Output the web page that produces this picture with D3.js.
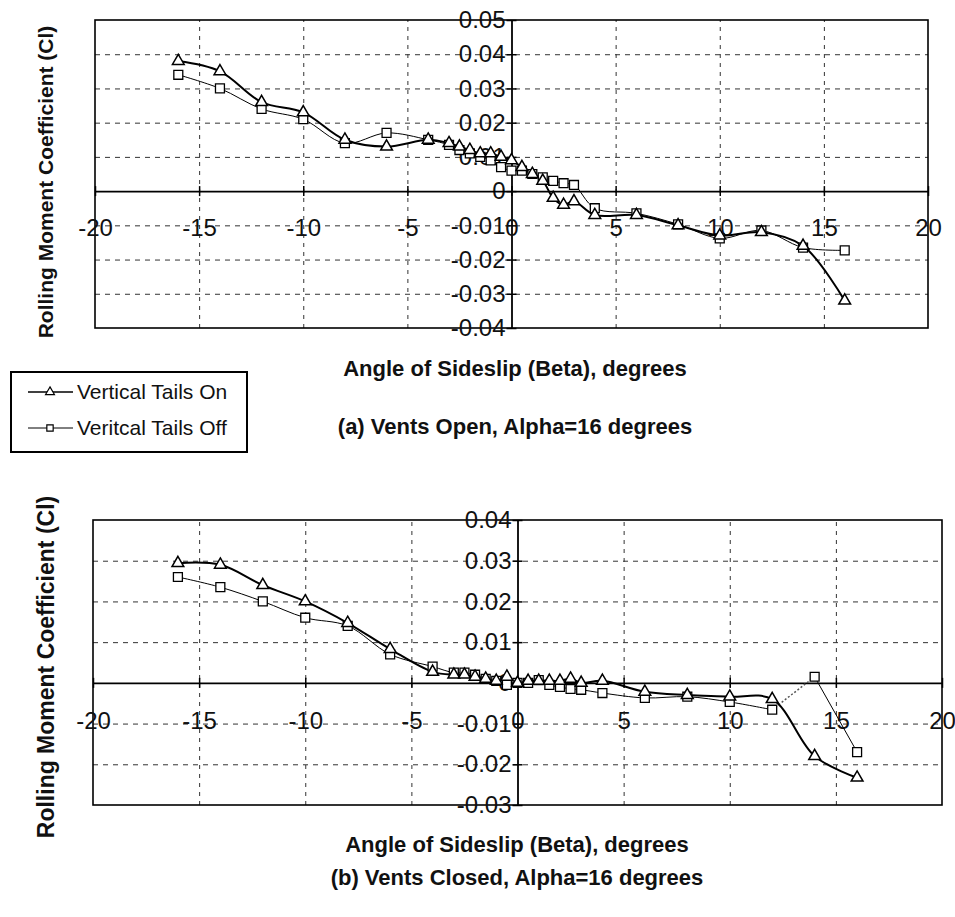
<!DOCTYPE html>
<html>
<head>
<meta charset="utf-8">
<script src="https://cdn.jsdelivr.net/npm/d3@7"></script>
<style>
  body { margin: 0; background: #fff; }
  text { font-family: "Liberation Sans", Arial, sans-serif; fill: #111; }
</style>
</head>
<body>
<div id="container"></div>
<script>
/* DATA */
// sideslip angles, same for every series
const betaDeg = [-16, -14, -12, -10, -8, -6, -4, -3, -2.5, -2, -1.5, -1, -0.5, 0,
  0.5, 1, 1.5, 2, 2.5, 3, 4, 6, 8, 10, 12, 14, 16];

// (a) vents open
const openTailsOn = [0.038, 0.035, 0.026, 0.023, 0.015, 0.013, 0.015, 0.014, 0.013, 0.012, 0.011, 0.011, 0.010, 0.009,
  0.007, 0.005, 0.003, -0.002, -0.004, -0.003, -0.007, -0.007, -0.010, -0.013, -0.012, -0.016, -0.032];
const openTailsOff = [0.034, 0.030, 0.024, 0.021, 0.014, 0.017, 0.015, 0.0135, 0.012, 0.011, 0.010, 0.009, 0.007, 0.006,
  0.006, 0.005, 0.004, 0.003, 0.0023, 0.0018, -0.005, -0.0065, -0.0097, -0.0138, -0.0115, -0.0165, -0.0173];

// (b) vents closed
const closedTailsOn = [0.0294, 0.029, 0.024, 0.020, 0.0147, 0.0083, 0.0027, 0.002, 0.002, 0.0015, 0.001, 0.0005, 0.0015, 0.0,
  0.0005, 0.0005, 0.0005, 0.0005, 0.001, 0.0, 0.0005, -0.0022, -0.003, -0.0034, -0.004, -0.018, -0.0233];
const closedTailsOff = [0.026, 0.0235, 0.020, 0.016, 0.014, 0.007, 0.004, 0.0025, 0.0025, 0.002, 0.001, 0.0005, -0.0005, 0.0,
  0.0, 0.0007, -0.0005, -0.001, -0.0015, -0.0017, -0.0025, -0.0037, -0.0034, -0.0047, -0.0066, 0.0015, -0.017];
// the closed/off line is dotted between these two betas
const closedOffDotted = [12, 14];

const xTicks = [-20, -15, -10, -5, 0, 5, 10, 15, 20];
const openYTicks = [0.05, 0.04, 0.03, 0.02, 0.01, 0, -0.01, -0.02, -0.03, -0.04];
const closedYTicks = [0.04, 0.03, 0.02, 0.01, 0, -0.01, -0.02, -0.03];

const seriesNames = ["Vertical Tails On", "Veritcal Tails Off"];
const xTitle = "Angle of Sideslip (Beta), degrees";
const yTitle = "Rolling Moment Coefficient (Cl)";
const captions = ["(a) Vents Open, Alpha=16 degrees", "(b) Vents Closed, Alpha=16 degrees"];

/* SETUP */
const width = 955, height = 917;
const plainNum = d => String(+d.toFixed(2)); // hyphen minus, like the original

const svg = d3.select("#container").append("svg")
  .attr("width", width)
  .attr("height", height);

svg.append("rect").attr("width", width).attr("height", height).attr("fill", "#fff");

const triangle = d3.symbol().type(d3.symbolTriangle).size(60);
const square = d3.symbol().type(d3.symbolSquare).size(80);

function drawPanel(p) {
  const x = d3.scaleLinear().domain([-20, 20]).range([p.left, p.right]);
  const y = d3.scaleLinear().domain(d3.extent(p.yTicks)).range([p.bottom, p.top]);

  const g = svg.append("g");

  // dashed grid
  g.append("g")
    .attr("transform", `translate(0,${p.bottom})`)
    .call(d3.axisBottom(x).tickValues(xTicks.filter(d => d !== 0 && Math.abs(d) !== 20))
      .tickSize(-(p.bottom - p.top)).tickFormat(""))
    .call(a => a.select(".domain").remove())
    .selectAll("line")
    .attr("stroke", "#333").attr("stroke-dasharray", "4,5");

  g.append("g")
    .attr("transform", `translate(${p.left},0)`)
    .call(d3.axisLeft(y).tickValues(p.yTicks.filter(d => d !== 0 && d !== p.yTicks[0] && d !== p.yTicks[p.yTicks.length - 1]))
      .tickSize(-(p.right - p.left)).tickFormat(""))
    .call(a => a.select(".domain").remove())
    .selectAll("line")
    .attr("stroke", "#333").attr("stroke-dasharray", "5,5");

  // plot border
  g.append("rect")
    .attr("x", p.left).attr("y", p.top)
    .attr("width", p.right - p.left).attr("height", p.bottom - p.top)
    .attr("fill", "none").attr("stroke", "#000").attr("stroke-width", 1.6);

  // axes crossing at zero
  const yAxisG = g.append("g")
    .attr("transform", `translate(${x(0)},0)`)
    .call(d3.axisLeft(y).tickValues(p.yTicks).tickSizeOuter(0).tickFormat(plainNum));
  yAxisG.select(".domain").attr("stroke-width", 1.8);
  yAxisG.selectAll(".tick line").attr("x1", -5).attr("x2", 5).attr("stroke-width", 1.5);
  yAxisG.selectAll(".tick text")
    .attr("x", -6)
    .style("font-size", p.tickFont + "px")
    .style("font-family", "Liberation Sans, Arial, sans-serif");

  const xAxisG = g.append("g")
    .attr("transform", `translate(0,${y(0)})`)
    .call(d3.axisBottom(x).tickValues(xTicks).tickSizeOuter(0).tickFormat(plainNum));
  xAxisG.select(".domain").attr("stroke-width", 1.8);
  xAxisG.selectAll(".tick line").attr("y1", -5).attr("y2", 5).attr("stroke-width", 1.5);
  xAxisG.selectAll(".tick text")
    .attr("y", p.xLabelOffset).attr("dy", "0.35em")
    .style("font-size", p.tickFont + "px")
    .style("font-family", "Liberation Sans, Arial, sans-serif");

  // lines
  const line = d3.line()
    .x(d => x(d[0]))
    .y(d => y(d[1]))
    .curve(d3.curveCatmullRom.alpha(0.5));

  const onPts = betaDeg.map((b, i) => [b, p.on[i]]);
  const offPts = betaDeg.map((b, i) => [b, p.off[i]]);

  if (p.dotted) {
    const i0 = betaDeg.indexOf(p.dotted[0]);
    const i1 = betaDeg.indexOf(p.dotted[1]);
    g.append("path").attr("d", line(offPts.slice(0, i0 + 1)))
      .attr("fill", "none").attr("stroke", "#000").attr("stroke-width", 1);
    g.append("path").attr("d", d3.line().x(d => x(d[0])).y(d => y(d[1]))(offPts.slice(i0, i1 + 1)))
      .attr("fill", "none").attr("stroke", "#555").attr("stroke-width", 1.5).attr("stroke-dasharray", "2,2");
    g.append("path").attr("d", line(offPts.slice(i1)))
      .attr("fill", "none").attr("stroke", "#000").attr("stroke-width", 1);
  } else {
    g.append("path").attr("d", line(offPts))
      .attr("fill", "none").attr("stroke", "#000").attr("stroke-width", 1);
  }

  g.append("path").attr("d", line(onPts))
    .attr("fill", "none").attr("stroke", "#000").attr("stroke-width", 2);

  // markers
  g.selectAll(".sq")
    .data(offPts)
    .join("path")
    .attr("class", "sq")
    .attr("transform", d => `translate(${x(d[0])},${y(d[1])})`)
    .attr("d", square)
    .attr("fill", "#fff").attr("stroke", "#000").attr("stroke-width", 1.3);

  g.selectAll(".tri")
    .data(onPts)
    .join("path")
    .attr("class", "tri")
    .attr("transform", d => `translate(${x(d[0])},${y(d[1])})`)
    .attr("d", triangle)
    .attr("fill", "#fff").attr("stroke", "#000").attr("stroke-width", 1.5);

  // titles
  g.append("text")
    .attr("x", p.titleX).attr("y", p.xTitleY)
    .attr("text-anchor", "middle").attr("dy", "0.35em")
    .style("font-size", "22px").style("font-weight", "bold")
    .text(xTitle);

  g.append("text")
    .attr("x", p.titleX).attr("y", p.captionY)
    .attr("text-anchor", "middle").attr("dy", "0.35em")
    .style("font-size", "22px").style("font-weight", "bold")
    .text(p.caption);

  g.append("text")
    .attr("transform", `translate(${p.yTitleX},${p.yTitleY}) rotate(-90)`)
    .attr("text-anchor", "middle").attr("dy", "0.35em")
    .style("font-size", p.yTitleFont + "px").style("font-weight", "bold")
    .text(yTitle);
}

drawPanel({
  left: 95, right: 928, top: 20, bottom: 328,
  yTicks: openYTicks, on: openTailsOn, off: openTailsOff,
  tickFont: 24, xLabelOffset: 36,
  titleX: 515, xTitleY: 368, captionY: 426, caption: captions[0],
  yTitleX: 46, yTitleY: 182, yTitleFont: 21
});

drawPanel({
  left: 93, right: 942, top: 520, bottom: 805,
  yTicks: closedYTicks, on: closedTailsOn, off: closedTailsOff, dotted: closedOffDotted,
  tickFont: 24, xLabelOffset: 38,
  titleX: 517, xTitleY: 844, captionY: 877, caption: captions[1],
  yTitleX: 46, yTitleY: 667, yTitleFont: 23
});

/* LEGEND */
const legend = svg.append("g").attr("transform", "translate(11,372)");
legend.append("rect")
  .attr("width", 236).attr("height", 80)
  .attr("fill", "#fff").attr("stroke", "#000").attr("stroke-width", 2);

const legendSymbols = [d3.symbol().type(d3.symbolTriangle).size(34), d3.symbol().type(d3.symbolSquare).size(40)];
const legendRows = legend.selectAll(".row")
  .data(seriesNames)
  .join("g")
  .attr("class", "row")
  .attr("transform", (d, i) => `translate(0,${20 + i * 36})`);

legendRows.append("line")
  .attr("x1", 17).attr("x2", 62)
  .attr("stroke", "#000").attr("stroke-width", (d, i) => i === 0 ? 1.5 : 1);
legendRows.append("path")
  .attr("transform", "translate(39,0)")
  .attr("d", (d, i) => legendSymbols[i]())
  .attr("fill", "#fff").attr("stroke", "#000").attr("stroke-width", 1.2);
legendRows.append("text")
  .attr("x", 66).attr("dy", "0.35em")
  .style("font-size", "21px")
  .text(d => d);
</script>
</body>
</html>
